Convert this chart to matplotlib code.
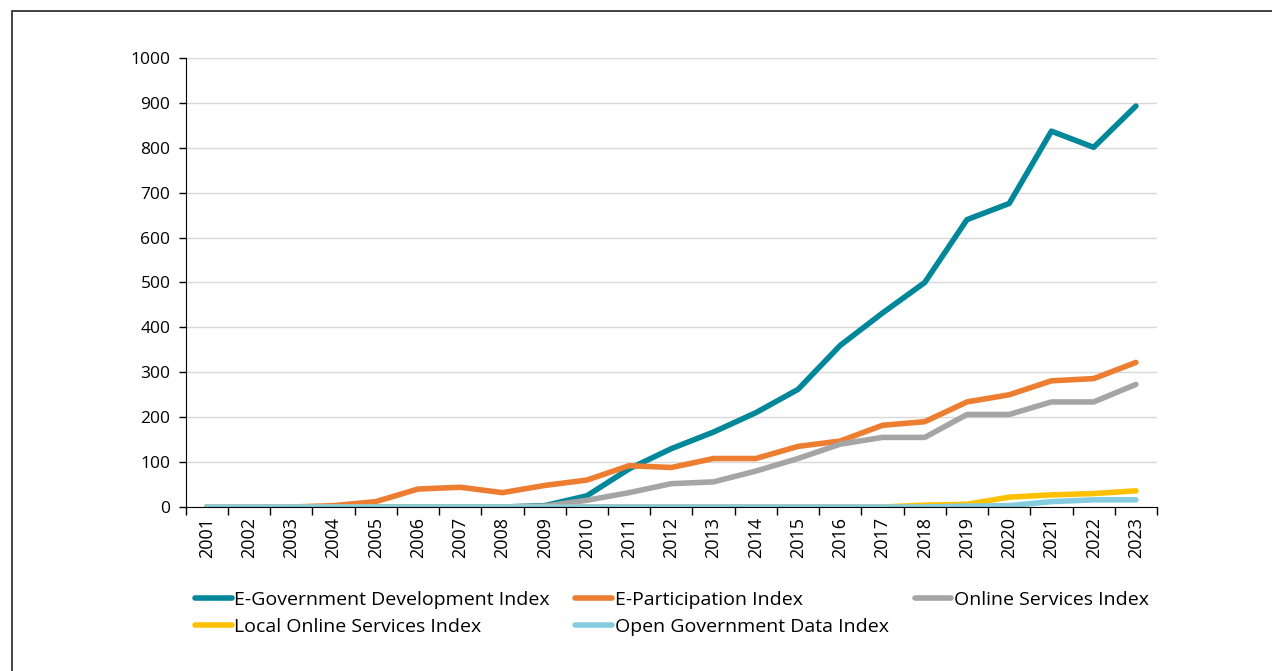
import numpy as np
import matplotlib
matplotlib.use("Agg")
from matplotlib import pyplot as plt
from matplotlib.patches import Rectangle

years = [str(y) for y in range(2001, 2024)]

egdi = [0, 0, 0, 0, 0, 0, 0, 0, 3, 25, 85, 130, 167, 210, 262, 360,
        432, 500, 640, 676, 837, 801, 893]
epi = [0, 0, 0, 3, 12, 40, 44, 32, 48, 60, 92, 88, 108, 108, 135, 147,
       182, 190, 234, 250, 281, 286, 322]
osi = [0, 0, 0, 0, 0, 0, 0, 0, 2, 15, 32, 52, 56, 80, 108, 140,
       155, 155, 206, 206, 234, 234, 273]
losi = [0, 0, 0, 0, 0, 0, 0, 0, 0, 0, 0, 0, 0, 0, 0, 0,
        0, 4, 6, 22, 27, 30, 36]
ogdi = [0, 0, 0, 0, 0, 0, 0, 0, 0, 0, 0, 0, 0, 0, 0, 0,
        0, 0, 2, 3, 12, 16, 16]

series = [
    ("E-Government Development Index", egdi, "#00879A"),
    ("E-Participation Index", epi, "#ED7D31"),
    ("Online Services Index", osi, "#A5A5A5"),
    ("Local Online Services Index", losi, "#FFC000"),
    ("Open Government Data Index", ogdi, "#85CCE0"),
]

plt.rcParams['font.family'] = ['Open Sans', 'DejaVu Sans']

fig = plt.figure(figsize=(12.72, 6.71), dpi=100)
ax = fig.add_axes([0.146, 0.2444, 0.7636, 0.6692])

x = np.arange(len(years))
handles = {}
for name, vals, col in series:
    h, = ax.plot(x, vals, color=col, lw=4, solid_capstyle='round',
                 solid_joinstyle='round', label=name)
    handles[name] = h

ax.set_xlim(-0.5, len(years) - 0.5)
ax.set_ylim(0, 1000)
ax.set_yticks(range(0, 1001, 100))
ax.tick_params(axis='y', labelsize=12.5, length=5, width=1, color='black', pad=6)
ax.set_xticks(x)
ax.set_xticklabels(years, rotation=90, fontsize=13)
ax.tick_params(axis='x', which='major', length=0, pad=7)
ax.set_xticks(np.arange(-0.5, len(years)), minor=True)
ax.tick_params(axis='x', which='minor', length=6, width=1, color='black')
ax.yaxis.grid(True, color='#D9D9D9', lw=1)
ax.set_axisbelow(True)
for s in ['top', 'right']:
    ax.spines[s].set_visible(False)
ax.spines['left'].set_color('black')
ax.spines['bottom'].set_color('black')

order = ["E-Government Development Index", "Local Online Services Index",
         "E-Participation Index", "Open Government Data Index",
         "Online Services Index"]
leg = fig.legend([handles[n] for n in order], order, ncol=3,
                 loc='upper left', bbox_to_anchor=(0.153, 0.119),
                 frameon=False, fontsize=14, handlelength=1.9,
                 handletextpad=0.15, columnspacing=1.3, labelspacing=0.45,
                 borderaxespad=0, borderpad=0)

# outer frame, open at right and bottom
fig.patches.append(Rectangle((0.0098, -0.05), 1.2, 1.033, transform=fig.transFigure,
                             fill=False, edgecolor='#333333', lw=1.3))

fig.savefig("out.png", dpi=100)
